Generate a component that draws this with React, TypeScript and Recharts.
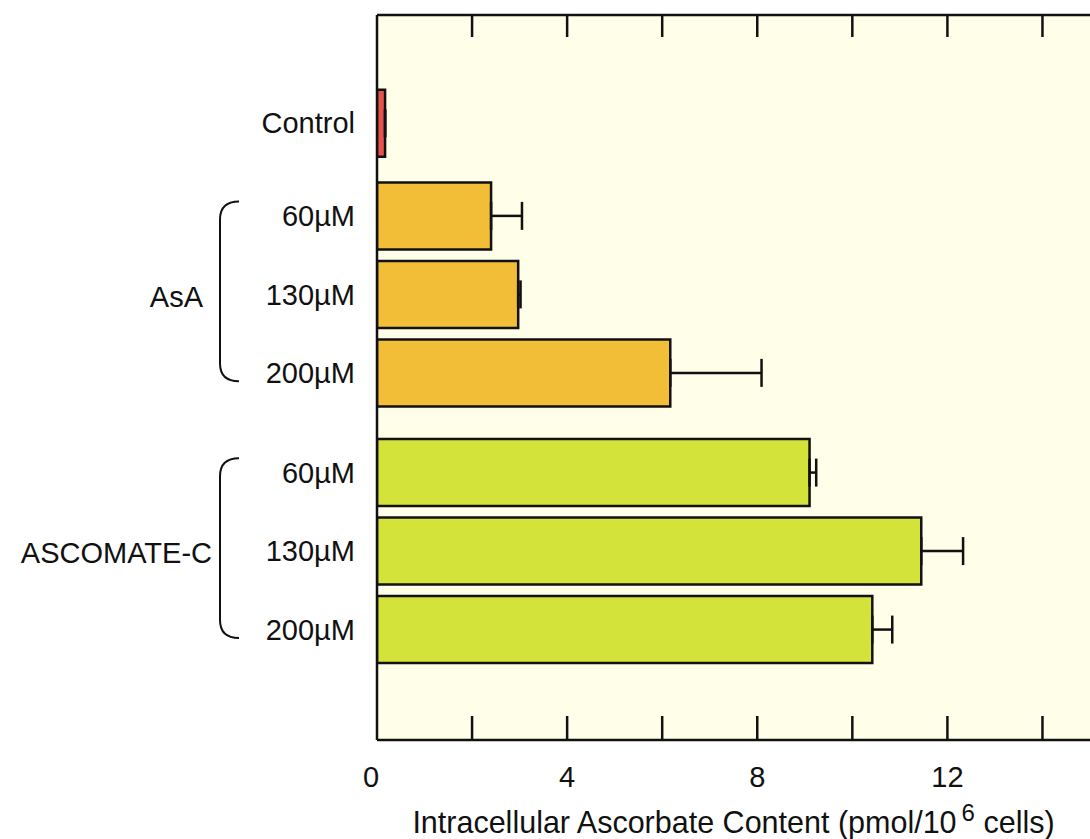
import React from 'react';
import { BarChart, Bar, XAxis, YAxis, ErrorBar, Cell, CartesianGrid } from 'recharts';

// rows, top to bottom
const labels = ['Control', '60µM', '130µM', '200µM', '60µM', '130µM', '200µM'];
const groups = [0, 1, 1, 1, 2, 2, 2];
const groupNames = ['', 'AsA', 'ASCOMATE-C'];
const values = [0.17, 2.4, 2.97, 6.17, 9.1, 11.45, 10.42];
const errors = [0, 0.65, 0.05, 1.92, 0.14, 0.88, 0.42];
const groupColors = ['#E6524C', '#F3BE37', '#D4E33A'];
const xTicks = [0, 2, 4, 6, 8, 10, 12, 14];
const xLabels = [0, 4, 8, 12];

const W = 1090;
const H = 839;
const PLOT_LEFT = 377;
const PLOT_TOP = 15;
const PLOT_BOTTOM = 740;
const FONT = '"Liberation Sans", Arial, Helvetica, sans-serif';
const INK = '#111';

// extra space between groups (in row units)
const groupGap = [0, 0.18, 0.27];
const gapBefore = (g: number) => groupGap.slice(0, g + 1).reduce((a, b) => a + b, 0);

const data = labels.map((name, i) => ({
  name,
  pos: i + gapBefore(groups[i]),
  value: values[i],
  err: [0, errors[i]],
  group: groups[i],
}));
const positions = data.map((d) => d.pos);
const yDomain = [-1.376, 7.86];
const rowPx = (PLOT_BOTTOM - PLOT_TOP) / (yDomain[1] - yDomain[0]);

const YTick = (props: any) => {
  const { y, index } = props;
  const row = data[index];
  if (!row) return null;
  const isMiddle = index === 2 || index === 5;
  const bx = 220;
  const top = y - 1.18 * rowPx;
  const bottom = y + 1.11 * rowPx;
  return (
    <g>
      <text x={PLOT_LEFT - 22} y={y} dy="0.36em" textAnchor="end" fontSize={29} fontFamily={FONT} fill={INK}>
        {row.name}
      </text>
      {isMiddle && (
        <>
          <path
            d={`M${bx + 19},${top} Q${bx},${top} ${bx},${top + 18} L${bx},${bottom - 18} Q${bx},${bottom} ${bx + 19},${bottom}`}
            fill="none"
            stroke={INK}
            strokeWidth={2}
          />
          <text
            x={index === 2 ? 203 : 212}
            y={y + 2}
            dy="0.36em"
            textAnchor="end"
            fontSize={29}
            fontFamily={FONT}
            fill={INK}
          >
            {groupNames[row.group]}
          </text>
        </>
      )}
    </g>
  );
};

const BottomTick = (props: any) => {
  const { x, y, payload } = props;
  const v = payload.value;
  return (
    <g>
      {v !== 0 && <line x1={x} x2={x} y1={y - 24} y2={y} stroke={INK} strokeWidth={2.5} />}
      {xLabels.includes(v) && (
        <text x={v === 0 ? x - 6 : x} y={y + 37} dy="0.36em" textAnchor="middle" fontSize={29} fontFamily={FONT} fill={INK}>
          {v}
        </text>
      )}
    </g>
  );
};

const TopTick = (props: any) => {
  const { x, y, payload } = props;
  if (payload.value === 0) return null;
  return <line x1={x} x2={x} y1={y} y2={y + 22} stroke={INK} strokeWidth={2.5} />;
};

const AxisTitle = (props: any) => {
  const vb = props.viewBox || {};
  const cx = (vb.x ?? PLOT_LEFT) + (vb.width ?? W - PLOT_LEFT) / 2;
  return (
    <text x={cx} y={833} textAnchor="middle" fontSize={30.5} fontFamily={FONT} fill={INK}>
      <tspan>Intracellular Ascorbate Content (pmol/10</tspan>
      <tspan dx={5} dy={-12} fontSize={24}>6</tspan>
      <tspan dy={12}> cells)</tspan>
    </text>
  );
};

export default function App() {
  return (
    <div style={{ position: 'absolute', left: 0, top: 0, width: W, height: H, background: '#fff' }}>
      <BarChart
        width={W}
        height={H}
        data={data}
        layout="vertical"
        margin={{ top: 0, right: 0, bottom: 0, left: 0 }}
      >
        <CartesianGrid fill="#FFFEE8" stroke="none" horizontal={false} vertical={false} />
        <XAxis
          xAxisId="bottom"
          type="number"
          orientation="bottom"
          domain={[0, 15]}
          ticks={xTicks}
          tick={<BottomTick />}
          tickLine={false}
          tickSize={0}
          tickMargin={0}
          height={H - PLOT_BOTTOM}
          axisLine={{ stroke: INK, strokeWidth: 2.5 }}
          allowDataOverflow
          label={<AxisTitle />}
        />
        <XAxis
          xAxisId="top"
          type="number"
          orientation="top"
          domain={[0, 15]}
          ticks={xTicks}
          tick={<TopTick />}
          tickLine={false}
          tickSize={0}
          tickMargin={0}
          height={PLOT_TOP}
          axisLine={{ stroke: INK, strokeWidth: 2.5 }}
          allowDataOverflow
        />
        <YAxis
          type="number"
          dataKey="pos"
          domain={yDomain}
          ticks={positions}
          interval={0}
          tick={<YTick />}
          tickLine={false}
          tickSize={0}
          tickMargin={0}
          width={PLOT_LEFT}
          axisLine={{ stroke: INK, strokeWidth: 2.5 }}
          allowDataOverflow
        />
        <Bar
          dataKey="value"
          xAxisId="bottom"
          barSize={67}
          stroke={INK}
          strokeWidth={2.5}
          isAnimationActive={false}
        >
          {data.map((d, i) => (
            <Cell key={`cell-${i}`} fill={groupColors[d.group]} />
          ))}
          <ErrorBar dataKey="err" direction="x" width={14} stroke={INK} strokeWidth={2.5} />
        </Bar>
      </BarChart>
    </div>
  );
}
